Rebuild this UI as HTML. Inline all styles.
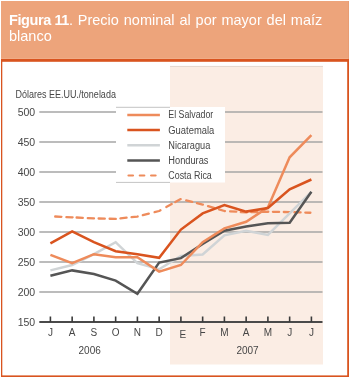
<!DOCTYPE html>
<html><head><meta charset="utf-8"><style>
html,body{margin:0;padding:0;background:#fff;overflow:hidden;}
svg{display:block;will-change:transform;}
.t{font-family:"Liberation Sans",sans-serif;font-size:10px;fill:#464646;}
.h{font-family:"Liberation Sans",sans-serif;font-size:14.5px;fill:#FFFFFF;}
</style></head><body>
<svg width="350" height="377" viewBox="0 0 350 377">
<rect x="1" y="1" width="348" height="58.5" fill="#EDA47B"/>
<rect x="1" y="58" width="347" height="1" fill="#F0AC86"/>
<rect x="348" y="1" width="0.8" height="58" fill="#E79B72"/>
<rect x="1" y="59" width="348" height="318" fill="#D9541F"/>
<rect x="2.3" y="61.8" width="344.9" height="313.6" fill="#FFFFFF"/>
<rect x="170" y="66" width="153" height="298.5" fill="#FBEDE4"/>
<rect x="170" y="65.9" width="153" height="1.1" fill="#E4D9D1"/>
<line x1="39.3" y1="292.00" x2="322.5" y2="292.00" stroke="#A6A6A6" stroke-width="1.3"/>
<line x1="39.3" y1="262.00" x2="322.5" y2="262.00" stroke="#A6A6A6" stroke-width="1.3"/>
<line x1="39.3" y1="232.00" x2="322.5" y2="232.00" stroke="#A6A6A6" stroke-width="1.3"/>
<line x1="39.3" y1="202.00" x2="322.5" y2="202.00" stroke="#A6A6A6" stroke-width="1.3"/>
<line x1="39.3" y1="172.00" x2="322.5" y2="172.00" stroke="#A6A6A6" stroke-width="1.3"/>
<line x1="39.3" y1="142.00" x2="322.5" y2="142.00" stroke="#A6A6A6" stroke-width="1.3"/>
<line x1="39.3" y1="112.00" x2="322.5" y2="112.00" stroke="#A6A6A6" stroke-width="1.3"/>
<rect x="116" y="107" width="109" height="75.5" fill="#FFFFFF"/>
<line x1="116" y1="107.3" x2="170" y2="107.3" stroke="#C4C4C4" stroke-width="1"/>
<line x1="116" y1="182.4" x2="170" y2="182.4" stroke="#C4C4C4" stroke-width="1"/>
<line x1="39.3" y1="322.00" x2="322.5" y2="322.00" stroke="#4A4A4A" stroke-width="2"/>
<line x1="50.40" y1="316.50" x2="50.40" y2="322.00" stroke="#3A3A3A" stroke-width="1.6"/>
<line x1="72.15" y1="316.50" x2="72.15" y2="322.00" stroke="#3A3A3A" stroke-width="1.6"/>
<line x1="93.90" y1="316.50" x2="93.90" y2="322.00" stroke="#3A3A3A" stroke-width="1.6"/>
<line x1="115.65" y1="316.50" x2="115.65" y2="322.00" stroke="#3A3A3A" stroke-width="1.6"/>
<line x1="137.40" y1="316.50" x2="137.40" y2="322.00" stroke="#3A3A3A" stroke-width="1.6"/>
<line x1="159.15" y1="316.50" x2="159.15" y2="322.00" stroke="#3A3A3A" stroke-width="1.6"/>
<line x1="180.90" y1="316.50" x2="180.90" y2="322.00" stroke="#3A3A3A" stroke-width="1.6"/>
<line x1="202.65" y1="316.50" x2="202.65" y2="322.00" stroke="#3A3A3A" stroke-width="1.6"/>
<line x1="224.40" y1="316.50" x2="224.40" y2="322.00" stroke="#3A3A3A" stroke-width="1.6"/>
<line x1="246.15" y1="316.50" x2="246.15" y2="322.00" stroke="#3A3A3A" stroke-width="1.6"/>
<line x1="267.90" y1="316.50" x2="267.90" y2="322.00" stroke="#3A3A3A" stroke-width="1.6"/>
<line x1="289.65" y1="316.50" x2="289.65" y2="322.00" stroke="#3A3A3A" stroke-width="1.6"/>
<line x1="311.40" y1="316.50" x2="311.40" y2="322.00" stroke="#3A3A3A" stroke-width="1.6"/>
<polyline points="55.20,216.51 61.40,216.80" fill="none" stroke="#EE8B5B" stroke-width="2.3" stroke-linecap="round" stroke-linejoin="round"/>
<polyline points="66.40,217.03 72.15,217.30 72.60,217.32" fill="none" stroke="#EE8B5B" stroke-width="2.3" stroke-linecap="round" stroke-linejoin="round"/>
<polyline points="76.60,217.52 82.80,217.83" fill="none" stroke="#EE8B5B" stroke-width="2.3" stroke-linecap="round" stroke-linejoin="round"/>
<polyline points="87.80,218.08 93.90,218.38 94.00,218.38" fill="none" stroke="#EE8B5B" stroke-width="2.3" stroke-linecap="round" stroke-linejoin="round"/>
<polyline points="98.60,218.50 104.80,218.65" fill="none" stroke="#EE8B5B" stroke-width="2.3" stroke-linecap="round" stroke-linejoin="round"/>
<polyline points="109.60,218.77 115.65,218.92 115.80,218.90" fill="none" stroke="#EE8B5B" stroke-width="2.3" stroke-linecap="round" stroke-linejoin="round"/>
<polyline points="120.42,218.39 126.58,217.71" fill="none" stroke="#EE8B5B" stroke-width="2.3" stroke-linecap="round" stroke-linejoin="round"/>
<polyline points="131.52,217.17 137.40,216.52 137.67,216.45" fill="none" stroke="#EE8B5B" stroke-width="2.3" stroke-linecap="round" stroke-linejoin="round"/>
<polyline points="142.80,215.15 148.80,213.63" fill="none" stroke="#EE8B5B" stroke-width="2.3" stroke-linecap="round" stroke-linejoin="round"/>
<polyline points="154.60,212.16 159.15,211.00 160.46,210.27" fill="none" stroke="#EE8B5B" stroke-width="2.3" stroke-linecap="round" stroke-linejoin="round"/>
<polyline points="166.29,207.06 171.71,204.07" fill="none" stroke="#EE8B5B" stroke-width="2.3" stroke-linecap="round" stroke-linejoin="round"/>
<polyline points="175.29,202.10 180.71,199.10" fill="none" stroke="#EE8B5B" stroke-width="2.3" stroke-linecap="round" stroke-linejoin="round"/>
<polyline points="186.20,200.34 192.20,201.87" fill="none" stroke="#EE8B5B" stroke-width="2.3" stroke-linecap="round" stroke-linejoin="round"/>
<polyline points="196.90,203.06 202.65,204.52 202.90,204.60" fill="none" stroke="#EE8B5B" stroke-width="2.3" stroke-linecap="round" stroke-linejoin="round"/>
<polyline points="208.03,206.12 213.97,207.89" fill="none" stroke="#EE8B5B" stroke-width="2.3" stroke-linecap="round" stroke-linejoin="round"/>
<polyline points="219.03,209.40 224.40,211.00 224.99,211.04" fill="none" stroke="#EE8B5B" stroke-width="2.3" stroke-linecap="round" stroke-linejoin="round"/>
<polyline points="230.11,211.35 236.29,211.72" fill="none" stroke="#EE8B5B" stroke-width="2.3" stroke-linecap="round" stroke-linejoin="round"/>
<polyline points="240.81,212.00 246.15,212.32 247.00,212.30" fill="none" stroke="#EE8B5B" stroke-width="2.3" stroke-linecap="round" stroke-linejoin="round"/>
<polyline points="251.30,212.18 257.50,212.01" fill="none" stroke="#EE8B5B" stroke-width="2.3" stroke-linecap="round" stroke-linejoin="round"/>
<polyline points="262.10,211.88 267.90,211.72 268.30,211.73" fill="none" stroke="#EE8B5B" stroke-width="2.3" stroke-linecap="round" stroke-linejoin="round"/>
<polyline points="272.90,211.80 279.10,211.91" fill="none" stroke="#EE8B5B" stroke-width="2.3" stroke-linecap="round" stroke-linejoin="round"/>
<polyline points="283.80,211.98 289.65,212.08 290.00,212.09" fill="none" stroke="#EE8B5B" stroke-width="2.3" stroke-linecap="round" stroke-linejoin="round"/>
<polyline points="294.40,212.24 300.60,212.44" fill="none" stroke="#EE8B5B" stroke-width="2.3" stroke-linecap="round" stroke-linejoin="round"/>
<polyline points="305.30,212.60 310.40,212.77" fill="none" stroke="#EE8B5B" stroke-width="2.3" stroke-linecap="round" stroke-linejoin="round"/>
<polyline points="50.40,270.40 72.15,265.00 93.90,254.20 115.65,242.20 137.40,263.20 159.15,269.20 180.90,256.00 202.65,254.50 224.40,235.30 246.15,230.80 267.90,235.00 289.65,213.40 311.40,191.80" fill="none" stroke="#D0D4D6" stroke-width="2.5" stroke-linejoin="miter"/>
<polyline points="50.40,275.80 72.15,270.40 93.90,274.00 115.65,280.60 137.40,293.80 159.15,262.60 180.90,258.10 202.65,244.00 224.40,230.80 246.15,226.60 267.90,223.30 289.65,222.70 311.40,191.80" fill="none" stroke="#555555" stroke-width="2.5"/>
<polyline points="50.40,254.80 72.15,263.20 93.90,254.20 115.65,257.20 137.40,257.20 159.15,271.60 180.90,265.00 202.65,242.20 224.40,228.40 246.15,221.80 267.90,207.40 289.65,157.30 311.40,135.10" fill="none" stroke="#EE8B5B" stroke-width="2.5"/>
<polyline points="50.40,243.40 72.15,231.40 93.90,242.20 115.65,251.20 137.40,254.20 159.15,257.80 180.90,229.60 202.65,213.40 224.40,205.00 246.15,211.60 267.90,208.00 289.65,189.40 311.40,179.50" fill="none" stroke="#D9541F" stroke-width="2.5"/>
<line x1="127.3" y1="115.10" x2="159.9" y2="115.10" stroke="#EE8B5B" stroke-width="2.5"/>
<text x="168.3" y="117.70" class="t" textLength="45" lengthAdjust="spacingAndGlyphs">El Salvador</text>
<line x1="127.3" y1="130.10" x2="159.9" y2="130.10" stroke="#D9541F" stroke-width="2.5"/>
<text x="168.3" y="134.20" class="t" textLength="46" lengthAdjust="spacingAndGlyphs">Guatemala</text>
<line x1="127.3" y1="145.30" x2="159.9" y2="145.30" stroke="#D0D4D6" stroke-width="2.5"/>
<text x="168.3" y="149.00" class="t" textLength="42" lengthAdjust="spacingAndGlyphs">Nicaragua</text>
<line x1="127.3" y1="160.50" x2="159.9" y2="160.50" stroke="#555555" stroke-width="2.5"/>
<text x="168.3" y="163.80" class="t" textLength="40.2" lengthAdjust="spacingAndGlyphs">Honduras</text>
<line x1="128.5" y1="175.50" x2="160" y2="175.50" stroke="#EE8B5B" stroke-width="2.2" stroke-dasharray="4.5 6.8" stroke-linecap="round"/>
<text x="168.3" y="178.90" class="t" textLength="43.5" lengthAdjust="spacingAndGlyphs">Costa Rica</text>
<text x="15.4" y="97.8" class="t" textLength="100.5" lengthAdjust="spacingAndGlyphs">Dólares EE.UU./tonelada</text>
<text x="35.2" y="325.70" class="t" text-anchor="end" textLength="17.5" lengthAdjust="spacingAndGlyphs">150</text>
<text x="35.2" y="295.70" class="t" text-anchor="end" textLength="17.5" lengthAdjust="spacingAndGlyphs">200</text>
<text x="35.2" y="265.70" class="t" text-anchor="end" textLength="17.5" lengthAdjust="spacingAndGlyphs">250</text>
<text x="35.2" y="235.70" class="t" text-anchor="end" textLength="17.5" lengthAdjust="spacingAndGlyphs">300</text>
<text x="35.2" y="205.70" class="t" text-anchor="end" textLength="17.5" lengthAdjust="spacingAndGlyphs">350</text>
<text x="35.2" y="175.70" class="t" text-anchor="end" textLength="17.5" lengthAdjust="spacingAndGlyphs">400</text>
<text x="35.2" y="145.70" class="t" text-anchor="end" textLength="17.5" lengthAdjust="spacingAndGlyphs">450</text>
<text x="35.2" y="115.70" class="t" text-anchor="end" textLength="17.5" lengthAdjust="spacingAndGlyphs">500</text>
<text x="50.40" y="336.30" class="t" text-anchor="middle">J</text>
<text x="72.15" y="336.30" class="t" text-anchor="middle">A</text>
<text x="93.90" y="336.30" class="t" text-anchor="middle">S</text>
<text x="115.65" y="336.30" class="t" text-anchor="middle">O</text>
<text x="137.40" y="336.30" class="t" text-anchor="middle">N</text>
<text x="159.15" y="336.30" class="t" text-anchor="middle">D</text>
<text x="182.90" y="337.50" class="t" text-anchor="middle">E</text>
<text x="202.65" y="336.30" class="t" text-anchor="middle">F</text>
<text x="224.40" y="336.30" class="t" text-anchor="middle">M</text>
<text x="246.15" y="336.30" class="t" text-anchor="middle">A</text>
<text x="267.90" y="336.30" class="t" text-anchor="middle">M</text>
<text x="289.65" y="336.30" class="t" text-anchor="middle">J</text>
<text x="311.40" y="336.30" class="t" text-anchor="middle">J</text>
<text x="89.7" y="354" class="t" text-anchor="middle">2006</text>
<text x="247.5" y="354" class="t" text-anchor="middle">2007</text>
<text x="9" y="24.6" class="h"><tspan font-weight="bold" letter-spacing="-0.42">Figura 11</tspan><tspan word-spacing="0.85">. Precio nominal al por mayor del maíz</tspan></text>
<text x="9" y="41.1" class="h">blanco</text>
</svg>
</body></html>
